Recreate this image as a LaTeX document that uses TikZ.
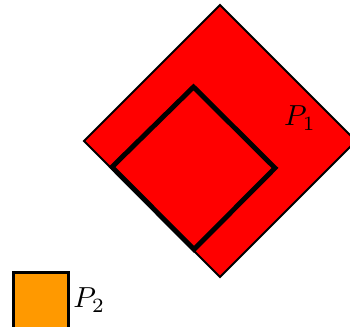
\documentclass[tikz,border=0pt]{standalone}
\usepackage{tikz}
\usetikzlibrary{positioning}
\definecolor{setred}{HTML}{FF0000}
\definecolor{setorange}{HTML}{FF9900}
\tikzset{
  bigset/.style={draw=black, fill=setred, line width=0.7pt, line join=miter},
  subset/.style={draw=black, fill=setred, line width=1.7pt, line join=miter},
  smallset/.style={draw=black, fill=setorange, line width=0.9pt},
  lbl/.style={inner sep=1pt, font=\normalsize}
}
\begin{document}
\begin{tikzpicture}[x=0.345pt, y=-0.345pt]
  \useasboundingbox (0,0) rectangle (350,327);
  % outer region P1
  \coordinate (o1) at (220,5);
  \coordinate (o2) at (356,141);
  \coordinate (o3) at (220,277);
  \coordinate (o4) at (84,141);
  \draw[bigset] (o1) -- (o2) -- (o3) -- (o4) -- cycle;
  % inner square
  \coordinate (i1) at (193.5,87);
  \coordinate (i2) at (275,168);
  \coordinate (i3) at (194,249.5);
  \coordinate (i4) at (112,167);
  \draw[subset] (i1) -- (i2) -- (i3) -- (i4) -- cycle;
  \node[lbl] (p1) at (300,118) {$P_1$};
  % P2
  \coordinate (s1) at (13.5,272.5);
  \coordinate (s2) at (68.5,330);
  \draw[smallset] (s1) rectangle (s2);
  \node[lbl, anchor=west] (p2) at (70,300) {$P_2$};
\end{tikzpicture}
\end{document}
